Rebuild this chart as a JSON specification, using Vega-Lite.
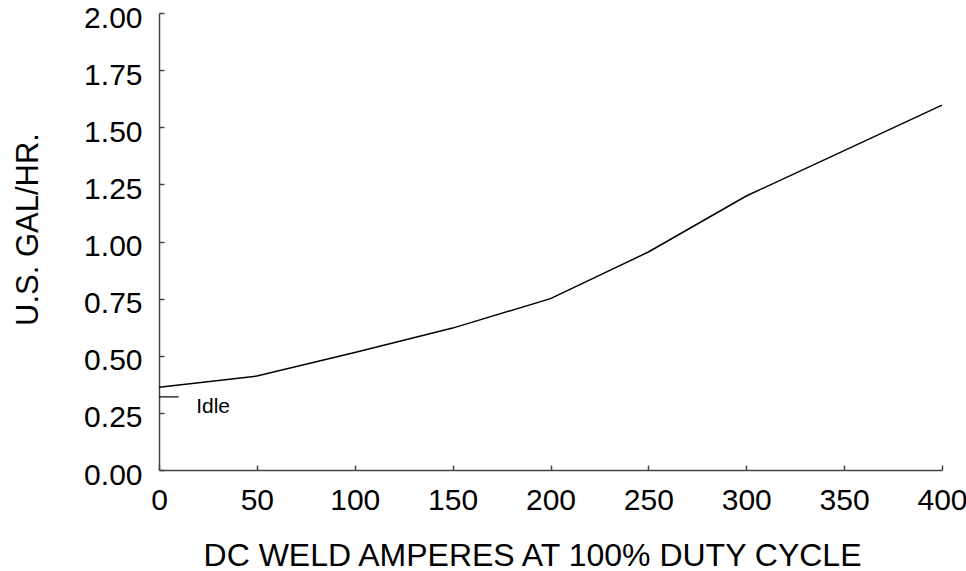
{
  "$schema": "https://vega.github.io/schema/vega-lite/v6.json",
  "autosize": "none",
  "width": 783,
  "height": 457,
  "padding": {"left": 159, "top": 13, "right": 24, "bottom": 101},
  "background": "white",
  "config": {
    "view": {"stroke": null},
    "font": "Liberation Sans",
    "axis": {"grid": false, "domainColor": "#444", "tickColor": "#444", "domainWidth": 1.5, "tickWidth": 1.5, "labelColor": "black", "titleColor": "black", "labelFont": "Liberation Sans", "titleFont": "Liberation Sans", "labelFontSize": 30, "titleFontSize": 31, "titleFontWeight": "normal", "tickSize": -5}
  },
  "datasets": {
    "curve": [
      {"amps": 0, "gal": 0.362},
      {"amps": 50, "gal": 0.411},
      {"amps": 100, "gal": 0.514},
      {"amps": 150, "gal": 0.621},
      {"amps": 200, "gal": 0.75},
      {"amps": 250, "gal": 0.954},
      {"amps": 300, "gal": 1.199},
      {"amps": 350, "gal": 1.398},
      {"amps": 400, "gal": 1.597}
    ],
    "idle": [{"amps": 0, "amps2": 10, "gal": 0.32}],
    "label": [{"amps": 19, "gal": 0.249, "text": "Idle"}]
  },
  "layer": [
    {
      "data": {"name": "curve"},
      "mark": {"type": "line", "color": "black", "strokeWidth": 1.5},
      "encoding": {
        "x": {"field": "amps", "type": "quantitative", "scale": {"domain": [0, 400], "nice": false},
          "axis": {"title": "DC WELD AMPERES AT 100% DUTY CYCLE", "titleFontSize": 32, "values": [0, 50, 100, 150, 200, 250, 300, 350, 400], "labelPadding": 20, "titleX": 373, "titleY": 95, "titleBaseline": "alphabetic", "titleAlign": "center", "labelFlush": false}},
        "y": {"field": "gal", "type": "quantitative", "scale": {"domain": [0, 2], "nice": false},
          "axis": {"title": "U.S. GAL/HR.", "values": [0, 0.25, 0.5, 0.75, 1, 1.25, 1.5, 1.75, 2], "format": ".2f", "labelPadding": 22, "labelOffset": 5, "titleX": -122, "titleY": 216, "titleAngle": -90, "titleBaseline": "alphabetic", "titleAlign": "center", "labelFlush": false}}
      }
    },
    {
      "data": {"name": "idle"},
      "mark": {"type": "rule", "color": "black", "strokeWidth": 1.2},
      "encoding": {
        "x": {"field": "amps", "type": "quantitative"},
        "x2": {"field": "amps2"},
        "y": {"field": "gal", "type": "quantitative"}
      }
    },
    {
      "data": {"name": "label"},
      "mark": {"type": "text", "align": "left", "baseline": "alphabetic", "fontSize": 21, "color": "black", "font": "Liberation Sans"},
      "encoding": {
        "x": {"field": "amps", "type": "quantitative"},
        "y": {"field": "gal", "type": "quantitative"},
        "text": {"field": "text"}
      }
    }
  ]
}
